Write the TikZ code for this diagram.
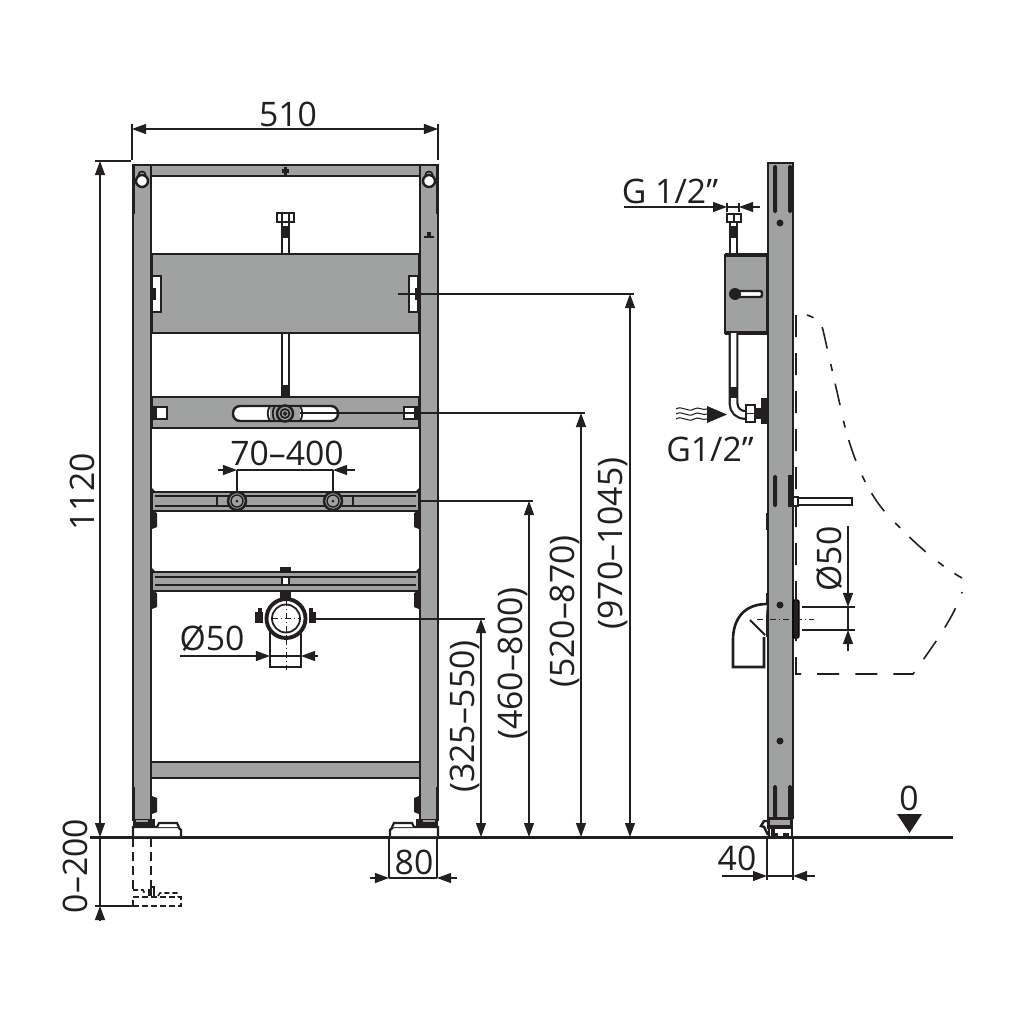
\documentclass[tikz,border=0pt]{standalone}
\usepackage{fontspec}
\setmainfont{Open Sans}
\usetikzlibrary{arrows.meta}
\definecolor{steelgray}{HTML}{A0A2A1}
\definecolor{inkdark}{HTML}{231F20}
\tikzset{
	steel/.style={draw=inkdark,fill=steelgray,line width=.7pt},
	outline/.style={draw=inkdark,fill=white,line width=.7pt},
	darkpart/.style={fill=inkdark},
	pipe/.style={draw=inkdark,line width=.022cm,double=white,double distance=.055cm},
	dimline/.style={draw=inkdark,line width=.3pt},
	dimarrow/.style={dimline,-{Triangle[length=.14cm,width=.1cm]}},
	dimtext/.style={text=inkdark,font=\fontsize{9.6}{9.6}\selectfont,inner sep=0pt},
	ghost/.style={draw=inkdark,line width=.45pt,dash pattern=on .22cm off .16cm},
	centerline/.style={draw=inkdark,line width=.25pt,dash pattern=on .06cm off .03cm on .01cm off .03cm},
}
\begin{document}
\begin{tikzpicture}[x=.01cm,y=-.01cm]
	\useasboundingbox[fill=white] (0,0) rectangle (1024,1024);
	% floor
	\coordinate (floorl) at (90,837);
	\coordinate (floorr) at (953,837);
	\draw[inkdark,line width=.85pt] (floorl) -- (floorr);
	% front view, mirrored parts
	\foreach \flip/\off in {1/0,-1/571}{
		\begin{scope}[shift={(\off,0)},xscale=\flip]
			\draw[steel] (133,165) rectangle (151,820);
			\fill[darkpart] (132,165) rectangle (135,214);
			\fill[darkpart] (132,787) rectangle (135,820);
			% keyhole
			\fill[darkpart] (142,175) circle[radius=4.5];
			\fill[steelgray] (142,175) circle[radius=2.5];
			\draw[inkdark,fill=white,line width=.7pt] (142,181) circle[radius=6];
			% rail ends
			\fill[darkpart] (152,488) -- (158,494) -- (158,510) -- (152,516) -- cycle;
			\fill[darkpart] (152,568) -- (158,574) -- (158,590) -- (152,596) -- cycle;
			% clips
			\foreach \y in {520,600,805}{
				\fill[darkpart] (152,\y-9) -- (157,\y-7) -- (157,\y+7) -- (152,\y+9) -- cycle;
			}
			% foot
			\fill[darkpart] (133,819) rectangle (155,827);
			\fill[steelgray] (136,820) rectangle (148,822);
			\draw[outline] (133,836) -- (133,827) -- (178,827) -- (181,830) -- (181,836);
			\draw[inkdark,line width=.6pt,fill=white] (157,827) -- (159,823) -- (177,823) -- (179,827);
		\end{scope}
	}
	% front view, rails
	\draw[steel] (151,165) rectangle (420,176);
	\fill[darkpart] (282,169) rectangle (289,173);
	\fill[darkpart] (284,167) rectangle (287,175);
	\fill[darkpart] (424,236) rectangle (434,238);
	\fill[darkpart] (427,232) rectangle (431,236);
	\draw[steel] (151,762) rectangle (420,778);
	% upper pipe
	\draw[pipe] (285.5,222) -- (285.5,254);
	\fill[darkpart] (281,226) rectangle (290,238);
	\draw[outline] (277,213) rectangle (294,222);
	\draw[inkdark,line width=.5pt] (282,213) -- (282,222) (289,213) -- (289,222);
	\draw[pipe] (285.5,333) -- (285.5,397);
	\fill[darkpart] (281,385) rectangle (290,397);
	% mounting panel
	\draw[steel] (152,254) rectangle (419,333);
	\draw[outline] (152,276) rectangle (161,312);
	\fill[darkpart] (152,288) rectangle (156,300);
	\draw[outline] (409,276) rectangle (418,312);
	\fill[darkpart] (415,288) rectangle (419,300);
	% valve bar
	\draw[steel] (152,397) rectangle (419,428);
	\draw[outline,rounded corners=.07cm] (233,406) rectangle (338,421);
	\draw[outline] (156,407) rectangle (167,419);
	\fill[darkpart] (152,406) rectangle (156,420);
	\draw[outline] (404,407) rectangle (415,419);
	\fill[darkpart] (415,406) rectangle (419,420);
	\fill[steelgray] (270,407) rectangle (300,420);
	\draw[inkdark,line width=.5pt] (270,406) .. controls (267,410) and (267,417) .. (270,421);
	\draw[inkdark,line width=.5pt] (275,406) .. controls (272,410) and (272,417) .. (275,421);
	\draw[inkdark,line width=.5pt] (300,406) .. controls (303,410) and (303,417) .. (300,421);
	\draw[inkdark,line width=.5pt] (270,406) -- (300,406) (270,421) -- (300,421);
	\draw[steel] (285,413.5) circle[radius=8];
	\draw[inkdark,line width=.5pt] (285,413.5) circle[radius=4.5];
	\draw[inkdark,line width=.4pt] (285,413.5) circle[radius=1.5];
	% tap rail
	\draw[steel] (152,492) rectangle (419,511);
	\draw[inkdark,line width=.6pt] (155,496) -- (416,496) (155,506) -- (416,506);
	\draw[inkdark,line width=.5pt] (217,496) -- (217,506) (353,496) -- (353,506);
	\foreach \x in {237,333}{
		\draw[steel] (\x,501) circle[radius=9];
		\draw[inkdark,line width=.4pt] (\x,501) circle[radius=6];
		\fill[darkpart] (\x,501) circle[radius=1.5];
	}
	% drain rail
	\draw[steel] (152,572) rectangle (419,591);
	\draw[inkdark,line width=.6pt] (155,577) -- (416,577) (155,585) -- (416,585);
	\fill[darkpart] (280,567) rectangle (291,572);
	\draw[outline] (282,577) rectangle (289,585);
	% drain fitting
	\fill[darkpart] (280,591) rectangle (291,600);
	\draw[outline] (270,630) -- (270,667) -- (301,667) -- (301,630);
	\fill[darkpart] (255,612) rectangle (263,623);
	\fill[darkpart] (258,608) rectangle (262,614);
	\fill[darkpart] (309,612) rectangle (316,623);
	\fill[darkpart] (309,608) rectangle (313,614);
	\draw[inkdark,fill=white,line width=1.1pt] (286,618.5) circle[radius=19.5];
	\draw[inkdark,line width=.5pt] (286,618.5) circle[radius=14];
	\draw[centerline] (272,618.5) -- (300,618.5);
	\draw[centerline] (286,600) -- (286,670);
	% dashed lowered foot
	\draw[ghost,dash pattern=on .09cm off .05cm] (133,838) -- (133,890);
	\draw[ghost,dash pattern=on .09cm off .05cm] (151,838) -- (151,890);
	\draw[ghost,dash pattern=on .06cm off .03cm] (133,906) -- (133,897) -- (181,897) -- (181,906) -- cycle;
	\draw[ghost,dash pattern=on .05cm off .03cm] (133,890) -- (143,890) -- (145,894);
	\draw[inkdark,line width=.4pt] (149,896) -- (149,889) (151,896) -- (151,887) -- (154,887) -- (154,896);
	\draw[ghost,dash pattern=on .05cm off .03cm] (158,896) -- (160,893) -- (177,893) -- (178,897);
	% side view, post
	\draw[steel] (768,163) rectangle (793,818);
	\foreach \y/\l in {165/48,475/32,785/33}{
		\fill[darkpart,rounded corners=.015cm] (773,\y) rectangle (777,\y+\l);
		\fill[darkpart,rounded corners=.015cm] (788,\y) rectangle (792,\y+\l);
	}
	\fill[darkpart] (766,513) rectangle (769,530);
	\fill[darkpart] (766,593) rectangle (769,637);
	\foreach \y in {223,605,741}{
		\fill[darkpart] (780,\y) circle[radius=3.5];
	}
	% side view, foot
	\fill[darkpart] (767,818) rectangle (793,829);
	\fill[steelgray] (770,820) rectangle (790,825);
	\draw[inkdark,line width=.7pt] (768,835) -- (764,827) -- (761,826) -- (764,821) -- (768,821);
	\draw[inkdark,line width=.7pt] (769,836) -- (769,829) (792,836) -- (792,829);
	\draw[inkdark,line width=.9pt] (773,829) -- (773,835) -- (778,835) (783,835) -- (789,835);
	% side view, box
	\draw[pipe] (733.5,222) -- (733.5,255);
	\fill[darkpart] (729,226) rectangle (738,238);
	\draw[outline] (727,214) rectangle (741,222);
	\draw[inkdark,line width=.5pt] (734,214) -- (734,222);
	\draw[steel] (725,255) rectangle (767,333);
	\draw[inkdark,line width=1.2pt] (725,255) -- (767,255) (725,333) -- (767,333);
	\draw[outline,rounded corners=.02cm] (735,291) rectangle (762,297);
	\fill[darkpart] (735,294) circle[radius=6];
	% side view, supply pipe
	\draw[pipe] (733.5,333) -- (733.5,403) .. controls (733.5,410) and (738,415) .. (746,415);
	\fill[darkpart] (729,387) rectangle (738,398);
	\draw[outline] (746,405) rectangle (755,422);
	\draw[inkdark,line width=.5pt] (746,413.5) -- (755,413.5);
	\fill[darkpart] (755,408) rectangle (761,419);
	\fill[darkpart] (761,398) rectangle (767,424);
	% supply arrow
	\foreach \y in {409,414,419}{
		\draw[inkdark,line width=.3pt] (676,\y) .. controls (682,\y-4) and (688,\y+4) .. (694,\y) .. controls (698,\y-3) and (703,\y+2) .. (707,\y);
	}
	\fill[darkpart] (707,406) -- (727,414.5) -- (707,423) -- cycle;
	% side view, spout
	\draw[outline] (793,498) rectangle (852,505);
	\fill[darkpart] (788,475) rectangle (792,507);
	\draw[outline] (793,497) rectangle (798,506);
	% side view, drain
	\draw[outline,line width=.75pt] (767,604) .. controls (745,604) and (733,618) .. (733,640) -- (733,667) -- (764,667) -- (764,637);
	\draw[inkdark,line width=.6pt] (750,620) -- (765,635);
	\draw[darkpart,rounded corners=.02cm] (793,600) rectangle (799,638);
	\draw[centerline] (757,619.5) -- (814,619.5);
	% urinal outline
	\draw[ghost] (796,315) -- (796,674) -- (913,674) -- (923,660) .. controls (940,636) and (956,612) .. (962,592);
	\draw[ghost,dash pattern=on .07cm off .13cm on .22cm off .16cm] (807,315) .. controls (816,318) and (821,322) .. (823,330) -- (840,405) .. controls (848,445) and (862,485) .. (885,512) .. controls (905,534) and (935,563) .. (962,578);
	% dimensions
	\coordinate (wl) at (132,129);
	\coordinate (wr) at (438,129);
	\draw[dimline] (132,124) -- (132,160) (438,124) -- (438,160);
	\draw[dimarrow,{Triangle[length=.14cm,width=.1cm]}-{Triangle[length=.14cm,width=.1cm]}] (wl) -- (wr);
	\node[dimtext] (w510) at (288,114.5) {510};
	\coordinate (ht) at (100,161);
	\coordinate (hb) at (100,837);
	\draw[dimline] (95,161) -- (131,161);
	\draw[dimarrow,{Triangle[length=.14cm,width=.1cm]}-{Triangle[length=.14cm,width=.1cm]}] (ht) -- (hb);
	\node[dimtext,rotate=90] (h1120) at (82,492) {1120};
	\coordinate (ab) at (100,906);
	\coordinate (abt) at (100,921);
	\draw[dimline] (95,906) -- (133,906);
	\draw[dimline] (hb) -- (ab);
	\draw[dimarrow] (abt) -- (ab);
	\node[dimtext,rotate=90] (a0200) at (75,866) {0–200};
	\foreach \x/\y/\ex/\tx/\ty/\lab in {630/294/398/613/543.5/(970–1045),581/413/300/565/611.5/(520–870),529/501/420/513/663.5/(460–800),481/619/316/465/716.5/(325–550)}{
		\coordinate (u\x) at (\x,\y);
		\coordinate (v\x) at (\x,837);
		\draw[dimline] (\ex,\y) -- (\x+4,\y);
		\draw[dimarrow,{Triangle[length=.14cm,width=.1cm]}-{Triangle[length=.14cm,width=.1cm]}] (u\x) -- (v\x);
		\node[dimtext,rotate=90] (t\x) at (\tx,\ty) {\lab};
	}
	% tap spacing
	\coordinate (ta) at (237,470);
	\coordinate (tb) at (333,470);
	\draw[dimline] (237,470) -- (237,492) (333,470) -- (333,492) (ta) -- (tb);
	\draw[dimarrow] (218,470) -- (ta);
	\draw[dimarrow] (355,470) -- (tb);
	\node[dimtext] (t70) at (287,453) {70–400};
	% drain width
	\coordinate (da) at (270,656);
	\coordinate (db) at (301,656);
	\draw[dimline] (da) -- (db);
	\draw[dimarrow] (180,656) -- (da);
	\draw[dimarrow] (318,656) -- (db);
	\node[dimtext] (d50) at (212,638) {Ø50};
	% foot width
	\coordinate (fa) at (389,878);
	\coordinate (fb) at (437,878);
	\draw[dimline] (389,838) -- (fa) (437,838) -- (fb) (fa) -- (fb);
	\draw[dimarrow] (370,878) -- (fa);
	\draw[dimarrow] (457,878) -- (fb);
	\node[dimtext] (f80) at (414,862) {80};
	% post depth
	\coordinate (pa) at (767,876);
	\coordinate (pb) at (793,876);
	\draw[dimline] (767,838) -- (767,880) (793,838) -- (793,880) (pa) -- (pb);
	\draw[dimarrow] (722,876) -- (pa);
	\draw[dimarrow] (815,876) -- (pb);
	\node[dimtext] (p40) at (737,858) {40};
	% thread
	\coordinate (ga) at (727,207);
	\coordinate (gb) at (739,207);
	\draw[dimline] (727,203) -- (727,212) (739,203) -- (739,212) (ga) -- (gb);
	\draw[dimarrow] (624,207) -- (ga);
	\draw[dimarrow] (760,207) -- (gb);
	\node[dimtext] (g12) at (670,191) {G 1/2\symbol{34}};
	\node[dimtext] (g12b) at (710,449) {G1/2\symbol{34}};
	% side drain
	\coordinate (sa) at (848,607);
	\coordinate (sb) at (848,630);
	\draw[dimline] (802,607) -- (855,607) (802,630) -- (855,630) (sa) -- (sb);
	\draw[dimarrow] (848,526) -- (sa);
	\draw[dimarrow] (848,651) -- (sb);
	\node[dimtext,rotate=90] (s50) at (829,559) {Ø50};
	% zero mark
	\node[dimtext] (zero) at (909,798) {0};
	\fill[darkpart] (897,814) -- (922,814) -- (909.5,833) -- cycle;
\end{tikzpicture}
\end{document}
